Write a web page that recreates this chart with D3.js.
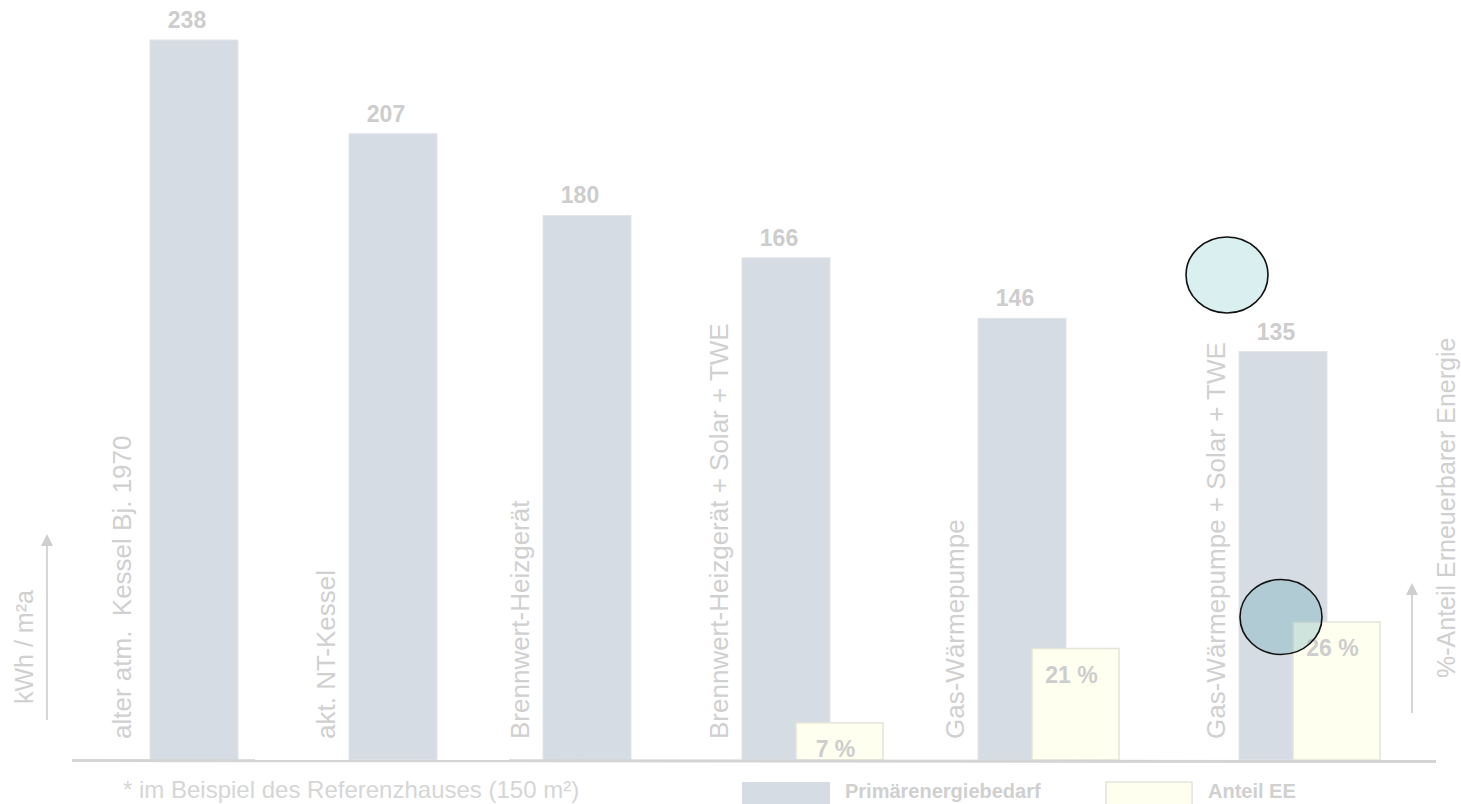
<!DOCTYPE html>
<html>
<head>
<meta charset="utf-8">
<script src="https://cdn.jsdelivr.net/npm/d3@7"></script>
<style>
  body { margin: 0; background: #fff; }
  svg { display: block; font-family: "Liberation Sans", Arial, sans-serif; }
</style>
</head>
<body>
<script>
// Data
var categories = [
    "alter atm.  Kessel Bj. 1970",
    "akt. NT-Kessel",
    "Brennwert-Heizgerät",
    "Brennwert-Heizgerät + Solar + TWE",
    "Gas-Wärmepumpe",
    "Gas-Wärmepumpe + Solar + TWE"
];
var primaryEnergy = [238, 207, 180, 166, 146, 135];
var shareEE = [null, null, null, 7, 21, 26];
var legendLabels = ["Primärenergiebedarf", "Anteil EE"];
var yAxisLabel = "kWh / m\u00b2a";
var y2AxisLabel = "%-Anteil Erneuerbarer Energie";
var footnote = "* im Beispiel des Referenzhauses (150 m\u00b2)";

var width = 1461, height = 804;
var baseY = 760;
var barW = 88;
var grayFill = "#d5dce3", yellowFill = "#fffff0";
var textGray = "#d0d0d0";

var svg = d3.select("body").append("svg")
    .attr("width", width)
    .attr("height", height);

// scales (bars are not evenly spaced in the original)
var x = d3.scaleOrdinal()
    .domain(categories)
    .range([150, 349, 543, 742, 978, 1239]);

var y = d3.scaleLinear()
    .domain([0, 238])
    .range([baseY, 40]);

var yPct = d3.scaleLinear()
    .domain([0, 26])
    .range([baseY, 622]);

var rows = categories.map(function(c, i) {
    return { cat: c, val: primaryEnergy[i], pct: shareEE[i] };
});

// category labels, rotated, left of each bar
svg.selectAll(".catLabel")
    .data(rows)
  .enter().append("text")
    .attr("class", "catLabel")
    .attr("transform", function(d, i) {
        var off = i === 0 ? 19 : 14;
        return "translate(" + (x(d.cat) - off) + "," + 739 + ") rotate(-90)";
    })
    .attr("font-size", 26)
    .attr("fill", textGray)
    .style("white-space", "pre")
    .text(function(d) { return d.cat; });

// primary energy bars
svg.selectAll(".bar")
    .data(rows)
  .enter().append("rect")
    .attr("class", "bar")
    .attr("x", function(d) { return x(d.cat); })
    .attr("y", function(d) { return y(d.val); })
    .attr("width", barW)
    .attr("height", function(d) { return baseY - y(d.val); })
    .attr("fill", grayFill)
    .attr("stroke", "#e2e4e6")
    .attr("stroke-width", 1);

svg.selectAll(".valLabel")
    .data(rows)
  .enter().append("text")
    .attr("class", "valLabel")
    .attr("x", function(d) { return x(d.cat) + barW / 2 - 7; })
    .attr("y", function(d) { return y(d.val) - 12; })
    .attr("text-anchor", "middle")
    .attr("font-size", 23)
    .attr("font-weight", "bold")
    .attr("fill", "#cdcdcd")
    .text(function(d) { return d.val; });

// share of renewable energy
var pctRows = rows.filter(function(d) { return d.pct != null; });

svg.selectAll(".pctBar")
    .data(pctRows)
  .enter().append("rect")
    .attr("class", "pctBar")
    .attr("x", function(d) { return x(d.cat) + 54; })
    .attr("y", function(d) { return yPct(d.pct); })
    .attr("width", 87)
    .attr("height", function(d) { return baseY - yPct(d.pct); })
    .attr("fill", yellowFill)
    .attr("stroke", "#e4e4da")
    .attr("stroke-width", 1.5);

svg.selectAll(".pctLabel")
    .data(pctRows)
  .enter().append("text")
    .attr("class", "pctLabel")
    .attr("x", function(d) { return x(d.cat) + 54 + 87 / 2 - 4; })
    .attr("y", function(d) { return yPct(d.pct) + 34; })
    .attr("text-anchor", "middle")
    .attr("font-size", 23)
    .attr("font-weight", "bold")
    .attr("fill", "#cdcdcd")
    .text(function(d) { return d.pct + " %"; });

// baseline
svg.append("line")
    .attr("x1", 72).attr("x2", 1436)
    .attr("y1", baseY + 0.5).attr("y2", baseY + 1.5)
    .attr("stroke", "#d4d4d4")
    .attr("stroke-width", 3);

// axis arrows
var defs = svg.append("defs");
defs.append("marker")
    .attr("id", "arrow")
    .attr("viewBox", "0 0 10 10")
    .attr("refX", 5).attr("refY", 5)
    .attr("markerWidth", 6).attr("markerHeight", 6)
    .attr("orient", "auto")
  .append("path")
    .attr("d", "M0,0 L10,5 L0,10 Z")
    .attr("fill", "#cfcfcf");

svg.append("line")
    .attr("x1", 47).attr("x2", 47)
    .attr("y1", 720).attr("y2", 540)
    .attr("stroke", "#d6d6d6").attr("stroke-width", 2)
    .attr("marker-end", "url(#arrow)");

svg.append("line")
    .attr("x1", 1412).attr("x2", 1412)
    .attr("y1", 713).attr("y2", 589)
    .attr("stroke", "#d6d6d6").attr("stroke-width", 2)
    .attr("marker-end", "url(#arrow)");

svg.append("text")
    .attr("transform", "translate(33,704) rotate(-90)")
    .attr("font-size", 25)
    .attr("fill", textGray)
    .text(yAxisLabel);

svg.append("text")
    .attr("transform", "translate(1455,678) rotate(-90)")
    .attr("font-size", 25)
    .attr("fill", textGray)
    .text(y2AxisLabel);

// footnote
svg.append("text")
    .attr("x", 123).attr("y", 798)
    .attr("font-size", 24)
    .attr("fill", "#d6d6d6")
    .text(footnote);

// legend
var legend = svg.selectAll(".legend")
    .data(legendLabels)
  .enter().append("g")
    .attr("class", "legend")
    .attr("transform", function(d, i) { return "translate(" + [742, 1106][i] + ",782)"; });

legend.append("rect")
    .attr("width", function(d, i) { return i === 0 ? 88 : 86; })
    .attr("height", 30)
    .attr("fill", function(d, i) { return i === 0 ? grayFill : yellowFill; })
    .attr("stroke", function(d, i) { return i === 0 ? "none" : "#e4e4da"; })
    .attr("stroke-width", 1.5);

legend.append("text")
    .attr("x", function(d, i) { return i === 0 ? 103 : 102; })
    .attr("y", 16)
    .attr("font-size", 20)
    .attr("font-weight", "bold")
    .attr("fill", textGray)
    .text(function(d) { return d; });

// highlight ellipses drawn over the chart
svg.append("ellipse")
    .attr("cx", 1227).attr("cy", 275)
    .attr("rx", 41).attr("ry", 38)
    .attr("fill", "#d9eff0")
    .attr("stroke", "#111").attr("stroke-width", 1.6);

svg.append("ellipse")
    .attr("cx", 1281).attr("cy", 617)
    .attr("rx", 41).attr("ry", 37.5)
    .attr("fill", "rgba(95,165,178,0.3)")
    .attr("stroke", "#111").attr("stroke-width", 1.6);
</script>
</body>
</html>
